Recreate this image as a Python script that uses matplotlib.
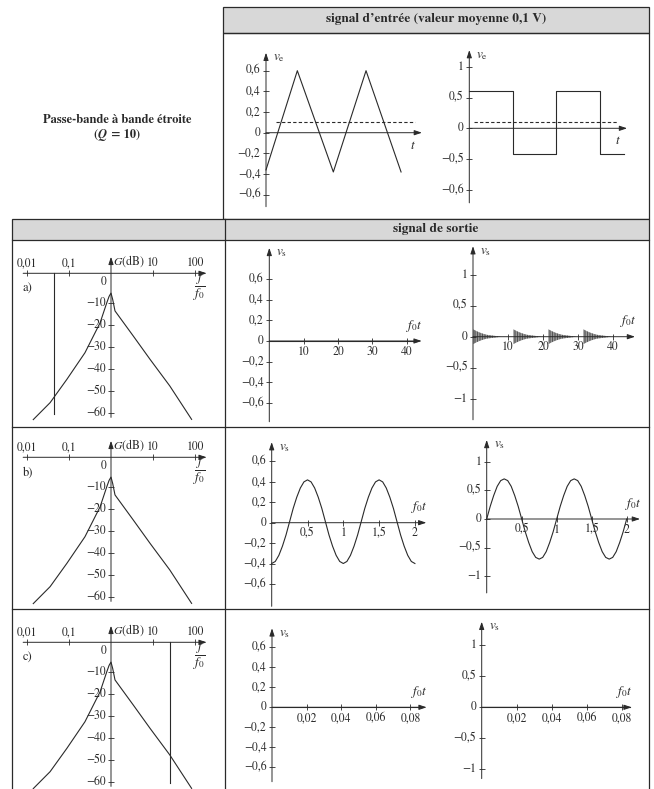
import numpy as np
import matplotlib.pyplot as plt
from matplotlib.patches import Rectangle

plt.rcParams['font.family'] = 'STIXGeneral'
plt.rcParams['mathtext.fontset'] = 'stix'
plt.rcParams['hatch.linewidth'] = 0.6

ink = '#2a2a2a'
grey = '#d8d8d8'

# signaux d'entrée (t en périodes)
tri_t = [0, 0.456, 0.98, 1.456, 1.966]
tri_v = [-0.36, 0.6, -0.38, 0.6, -0.38]
sq_t = [0, 0.5, 1.0, 1.508, 1.79]
sq_v = [0.61, -0.41, 0.61, -0.41, -0.41]
mean_v = 0.1

# gain du passe-bande Q = 10
bode_f = [0.0141, 0.0355, 0.089, 0.24, 0.55, 0.79, 0.9, 1.0,
          1.1, 1.245, 3.39, 8.5, 25.1, 83]
bode_G = [-63, -55.3, -44.7, -32.6, -19, -10, -7, -5.5,
          -8.5, -13.6, -25, -35.6, -47.7, -62.9]
row_labels = ['a)', 'b)', 'c)']
row_f = [0.043, 1.0, 26.0]

# sorties
a_tri_t = [0, 43]
a_tri_v = [0, 0]
burst_start = [0, 11.5, 21.5, 31.5]
burst_dt = [0, 1, 2, 3, 4, 6, 8]
burst_amp = [0.12, 0.09, 0.065, 0.045, 0.03, 0.015, 0.0]

b_t = np.round(np.arange(41) * 0.05, 2)
b_tri_v = [-0.40, -0.38, -0.32, -0.23, -0.12, 0.01, 0.14, 0.25, 0.34, 0.40, 0.42,
           0.40, 0.34, 0.25, 0.14, 0.01, -0.12, -0.23, -0.32, -0.38, -0.40,
           -0.38, -0.32, -0.23, -0.12, 0.01, 0.14, 0.25, 0.34, 0.40, 0.42,
           0.40, 0.34, 0.25, 0.14, 0.01, -0.12, -0.23, -0.32, -0.38, -0.40]
b_sq_v = [0, 0.22, 0.41, 0.57, 0.67, 0.70, 0.67, 0.57, 0.41, 0.22, 0,
          -0.22, -0.41, -0.57, -0.67, -0.70, -0.67, -0.57, -0.41, -0.22, 0,
          0.22, 0.41, 0.57, 0.67, 0.70, 0.67, 0.57, 0.41, 0.22, 0,
          -0.22, -0.41, -0.57, -0.67, -0.70, -0.67, -0.57, -0.41, -0.22, 0]
c_t = [0, 0.085]
c_v = [0, 0]

ticks_06 = [0.6, 0.4, 0.2, 0, -0.2, -0.4, -0.6]
labels_06 = ['0,6', '0,4', '0,2', '0', '−0,2', '−0,4', '−0,6']
ticks_1 = [1, 0.5, 0, -0.5, -1]
labels_1 = ['1', '0,5', '0', '−0,5', '−1']

W, H = 654, 789
fig = plt.figure(figsize=(W / 100, H / 100), dpi=100)


def make_ax(xpx, xval, ypx, yval, xlim, ylim, logx=False):
    fx = np.log10 if logx else (lambda v: v)
    kx = (xpx[1] - xpx[0]) / (fx(xval[1]) - fx(xval[0]))
    ky = (ypx[1] - ypx[0]) / (yval[1] - yval[0])
    x0 = xpx[0] + (fx(xlim[0]) - fx(xval[0])) * kx
    x1 = xpx[0] + (fx(xlim[1]) - fx(xval[0])) * kx
    y0 = ypx[0] + (ylim[0] - yval[0]) * ky
    y1 = ypx[0] + (ylim[1] - yval[0]) * ky
    ax = fig.add_axes([x0 / W, 1 - y0 / H, (x1 - x0) / W, (y0 - y1) / H])
    if logx:
        ax.set_xscale('log')
    ax.set_xlim(xlim)
    ax.set_ylim(ylim)
    ax.axis('off')
    return ax


arrow_kw = dict(arrowstyle='-|>,head_length=0.45,head_width=0.15', color=ink,
                lw=0.7, shrinkA=0, shrinkB=0, mutation_scale=10)


def draw_axes(ax, xend, ybot, ytop, x0=0, y0=0):
    ax.annotate('', xy=(xend, y0), xytext=(x0, y0), arrowprops=arrow_kw)
    ax.annotate('', xy=(x0, ytop), xytext=(x0, ybot), arrowprops=arrow_kw)


def yticks(ax, vals, labels, x0=0, dx=-4):
    ax.plot([x0] * len(vals), vals, ls='none', marker='_', ms=4, mew=0.6, color=ink)
    for v, s in zip(vals, labels):
        ax.annotate(s, (x0, v), xytext=(dx, 0), textcoords='offset points',
                    ha='right', va='center', fontsize=8.5, color=ink)


def xticks(ax, vals, labels, y0=0, dy=-3.5, above=False):
    ax.plot(vals, [y0] * len(vals), ls='none', marker='|', ms=4, mew=0.6, color=ink)
    for v, s in zip(vals, labels):
        ax.annotate(s, (v, y0), xytext=(0, dy), textcoords='offset points',
                    ha='center', va='bottom' if above else 'top', fontsize=8.5, color=ink)


def names(ax, ytop, ylab, xend, xlab, below=False):
    ax.annotate(ylab, (0, ytop), xytext=(5, -4), textcoords='offset points',
                ha='left', va='center', fontsize=9.5, color=ink)
    off = (-6.5, -9.5) if below else (-5, 11)
    ax.annotate(xlab, (xend, 0), xytext=off, textcoords='offset points',
                ha='center', va='center', fontsize=9.5, color=ink)


# tableau
bg = fig.add_axes([0, 0, 1, 1])
bg.set_xlim(0, W)
bg.set_ylim(H, 0)
bg.axis('off')
line_kw = dict(color=ink, lw=0.9)
bg.add_patch(Rectangle((223, 7), 426, 26, fc=grey, ec=ink, lw=0.9))
bg.add_patch(Rectangle((223, 33), 426, 186, fc='none', ec=ink, lw=0.9))
bg.add_patch(Rectangle((12, 219), 637, 21, fc=grey, ec=ink, lw=0.9))
bg.plot([12, 12], [240, 800], **line_kw)
bg.plot([649, 649], [240, 800], **line_kw)
bg.plot([225, 225], [219, 800], **line_kw)
for y in (427, 609):
    bg.plot([12, 649], [y, y], **line_kw)
bg.text(436, 19, 'signal d’entrée (valeur moyenne 0,1 V)', ha='center', va='center',
        fontsize=9.5, fontweight='bold', color=ink)
bg.text(436, 229, 'signal de sortie', ha='center', va='center',
        fontsize=9.5, fontweight='bold', color=ink)
bg.text(117, 120, 'Passe-bande à bande étroite', ha='center', va='center',
        fontsize=9, fontweight='bold', color=ink)
bg.text(98, 135, '(', ha='right', va='center', fontsize=9, fontweight='bold', color=ink)
bg.text(98, 135, 'Q', ha='left', va='center', fontsize=9, fontweight='bold',
        fontstyle='italic', color=ink)
bg.text(107.5, 135, ' = 10)', ha='left', va='center', fontsize=9, fontweight='bold', color=ink)

# entrée triangulaire
ax = make_ax((266, 334.7), (0, 1), (132.7, 70.7), (0, 0.6), (-0.3, 2.5), (-0.85, 0.9))
ax.plot(tri_t, tri_v, color=ink, lw=0.8)
ax.plot([0.15, 2.17], [mean_v, mean_v], color=ink, lw=0.8, ls=(0, (3, 2)))
draw_axes(ax, 2.27, -0.716, 0.774)
yticks(ax, ticks_06, labels_06)
names(ax, 0.774, r'$v_\mathrm{e}$', 2.27, r'$t$', below=True)

# entrée en créneaux
ax = make_ax((469.3, 556), (0, 1), (128.3, 66.7), (0, 1), (-0.3, 2.1), (-1.4, 1.45))
ax.step(sq_t, sq_v, where='post', color=ink, lw=0.8)
ax.plot([0.05, 1.72], [mean_v, mean_v], color=ink, lw=0.8, ls=(0, (3, 2)))
draw_axes(ax, 1.82, -1.21, 1.27)
yticks(ax, ticks_1, ['1', '0,5', '0', '−0,5', '−0,6'])
names(ax, 1.27, r'$v_\mathrm{e}$', 1.82, r'$t$', below=True)

# diagrammes de Bode
row_dy = [0, 184, 369]
G_ticks = [-10, -20, -30, -40, -50, -60]
for dy, lab, fs in zip(row_dy, row_labels, row_f):
    ax = make_ax((111, 153), (1, 10), (281 + dy, 413 + dy), (0, -60),
                 (0.006, 300), (-75, 16), logx=True)
    ax.plot(bode_f, bode_G, color=ink, lw=0.8)
    ax.annotate('', xy=(190, 3.5), xytext=(0.0081, 3.5), arrowprops=arrow_kw)
    ax.annotate('', xy=(1, 11), xytext=(1, -62), arrowprops=arrow_kw)
    if fs != 1:
        ax.plot([fs, fs], [3.5, -60.5], color=ink, lw=0.8)
    xticks(ax, [0.01, 0.1, 10, 100], ['0,01', '0,1', '10', '100'], y0=3.5, dy=3, above=True)
    ax.plot([1] * len(G_ticks), G_ticks, ls='none', marker='_', ms=4, mew=0.6, color=ink)
    for g in [0] + G_ticks:
        ax.annotate('0' if g == 0 else '−%d' % -g, (1, g), xytext=(-3.5, -1 if g == 0 else 0),
                    textcoords='offset points', ha='right', va='center', fontsize=8.5, color=ink)
    ax.annotate(r'$G$(dB)', (1, 3.5), xytext=(1.5, 3), textcoords='offset points',
                ha='left', va='bottom', fontsize=8.5, color=ink)
    ax.annotate(r'$\dfrac{f}{f_0}$', (131, -2.7), ha='center', va='center', fontsize=9.5, color=ink)
    ax.annotate(lab, (0.0078, -3.5), ha='left', va='center', fontsize=9, color=ink)

# sorties, cas a)
ax = make_ax((269.3, 303.7), (0, 10), (341, 320.3), (0, 0.2), (-3, 48), (-0.85, 1.0))
ax.plot(a_tri_t, a_tri_v, color=ink, lw=0.8)
draw_axes(ax, 44.3, -0.78, 0.9)
yticks(ax, ticks_06, labels_06)
xticks(ax, [10, 20, 30, 40], ['10', '20', '30', '40'])
names(ax, 0.9, r'$v_\mathrm{s}$', 44.3, r'$f_0t$')

ax = make_ax((473, 508), (0, 10), (336.7, 305.7), (0, 0.5), (-3, 50), (-1.5, 1.6))
for t0 in burst_start:
    tt = [t0 + d for d in burst_dt]
    ax.fill_between(tt, [-a for a in burst_amp], burst_amp, facecolor='#b4b4b4',
                    edgecolor='#454545', hatch='|' * 10, lw=0)
draw_axes(ax, 46.3, -1.34, 1.46)
yticks(ax, ticks_1, labels_1)
xticks(ax, [10, 20, 30, 40], ['10', '20', '30', '40'])
names(ax, 1.46, r'$v_\mathrm{s}$', 46.3, r'$f_0t$')

# sorties, cas b)
ax = make_ax((271.7, 343.3), (0, 1), (522.7, 502.3), (0, 0.2), (-0.1, 2.4), (-0.9, 0.95))
ax.plot(b_t, b_tri_v, color=ink, lw=0.8)
draw_axes(ax, 2.16, -0.82, 0.79)
yticks(ax, ticks_06, labels_06)
xticks(ax, [0.5, 1, 1.5, 2], ['0,5', '1', '1,5', '2'])
names(ax, 0.79, r'$v_\mathrm{s}$', 2.16, r'$f_0t$')

ax = make_ax((486.7, 556.7), (0, 1), (519, 461.7), (0, 1), (-0.1, 2.4), (-1.5, 1.6))
ax.plot(b_t, b_sq_v, color=ink, lw=0.8)
draw_axes(ax, 2.19, -1.29, 1.38)
yticks(ax, ticks_1, labels_1)
xticks(ax, [0.5, 1, 1.5, 2], ['0,5', '1', '1,5', '2'])
names(ax, 1.38, r'$v_\mathrm{s}$', 2.19, r'$f_0t$')

# sorties, cas c)
ax = make_ax((272, 306.6), (0, 0.02), (707.3, 687.3), (0, 0.2), (-0.005, 0.1), (-0.9, 0.95))
ax.plot(c_t, c_v, color=ink, lw=0.8)
draw_axes(ax, 0.0894, -0.744, 0.79)
yticks(ax, ticks_06, labels_06)
xticks(ax, [0.02, 0.04, 0.06, 0.08], ['0,02', '0,04', '0,06', '0,08'])
names(ax, 0.79, r'$v_\mathrm{s}$', 0.0894, r'$f_0t$')

ax = make_ax((481.7, 516.7), (0, 0.02), (707.3, 676.3), (0, 0.5), (-0.005, 0.1), (-1.5, 1.6))
ax.plot(c_t, c_v, color=ink, lw=0.8)
draw_axes(ax, 0.0857, -1.15, 1.38)
yticks(ax, ticks_1, labels_1)
xticks(ax, [0.02, 0.04, 0.06, 0.08], ['0,02', '0,04', '0,06', '0,08'])
names(ax, 1.38, r'$v_\mathrm{s}$', 0.0857, r'$f_0t$')

fig.savefig('out.png', dpi=100)
